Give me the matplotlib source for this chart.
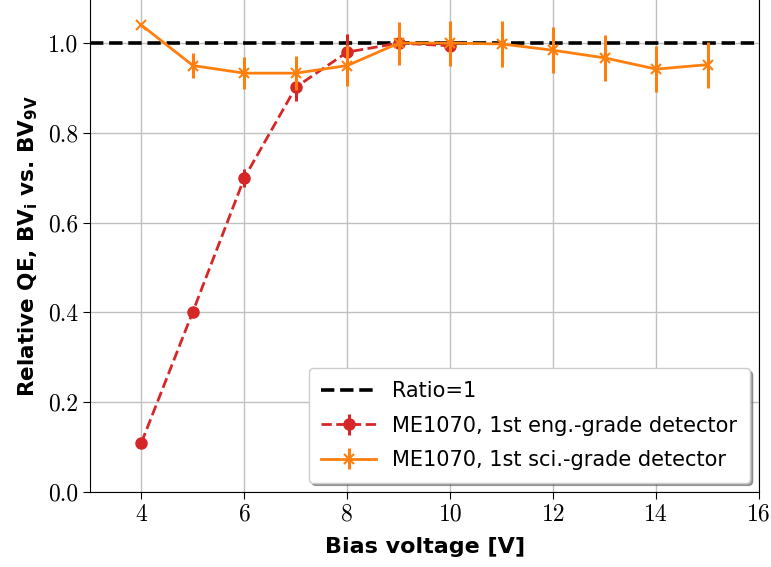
import numpy as np
import matplotlib
matplotlib.use("Agg")
import matplotlib.pyplot as plt

plt.rcParams["mathtext.fontset"] = "dejavusans"

# engineering-grade detector
eng_bias = [4, 5, 6, 7, 8, 9, 10]
eng_qe = [0.11, 0.402, 0.70, 0.902, 0.98, 1.0, 0.994]
eng_err = [0.01, 0.01, 0.02, 0.03, 0.04, 0.01, 0.01]

# science-grade detector
sci_bias = [4, 5, 6, 7, 8, 9, 10, 11, 12, 13, 14, 15]
sci_qe = [1.04, 0.950, 0.933, 0.933, 0.950, 1.0, 1.0, 0.998, 0.984, 0.967, 0.942, 0.952]
sci_err = [0.0, 0.027, 0.035, 0.038, 0.045, 0.048, 0.05, 0.051, 0.051, 0.051, 0.051, 0.051]

xticks = [4, 6, 8, 10, 12, 14, 16]
yticks = [0.0, 0.2, 0.4, 0.6, 0.8, 1.0]

fig = plt.figure(figsize=(7.71, 5.67), dpi=100)
ax = fig.add_axes([0.1167, 0.1323, 0.868, 0.8677])

ax.axhline(1.0, color="k", ls="--", lw=2.6, label="Ratio=1", zorder=3)
ax.errorbar(eng_bias, eng_qe, yerr=eng_err, color="tab:red", ls="--", lw=2,
            marker="o", ms=8, elinewidth=2.2, capsize=0,
            label="ME1070, 1st eng.-grade detector", zorder=4)
ax.errorbar(sci_bias, sci_qe, yerr=sci_err, color="tab:orange", ls="-", lw=2,
            marker="x", ms=7, mew=1.5, elinewidth=2.2, capsize=0,
            label="ME1070, 1st sci.-grade detector", zorder=5)

ax.set_xlim(3, 16)
ax.set_ylim(0, 1.096)
ax.set_xticks(xticks)
ax.set_xticklabels([str(v) for v in xticks], fontfamily="cmr10", fontsize=17)
ax.set_yticks(yticks)
ax.set_yticklabels([f"{v:.1f}" for v in yticks], fontfamily="cmr10", fontsize=17)
ax.tick_params(direction="out", length=5)
ax.grid(True, color="#c0c0c0", lw=1)
ax.set_axisbelow(True)
ax.spines["top"].set_visible(False)

ax.set_xlabel("Bias voltage [V]", fontsize=16, fontweight="bold", labelpad=8)
ax.set_ylabel(r"Relative QE, BV$_\mathbf{i}$ vs. BV$_\mathbf{9V}$", fontsize=15.5,
              fontweight="bold", labelpad=6)

ax.legend(loc="lower right", fontsize=15, fancybox=True, shadow=True,
          framealpha=1, borderpad=0.6, labelspacing=0.7, handlelength=2.6,
          bbox_to_anchor=(1.0, 0.0), borderaxespad=0.45)

fig.savefig("out.png", dpi=100)
